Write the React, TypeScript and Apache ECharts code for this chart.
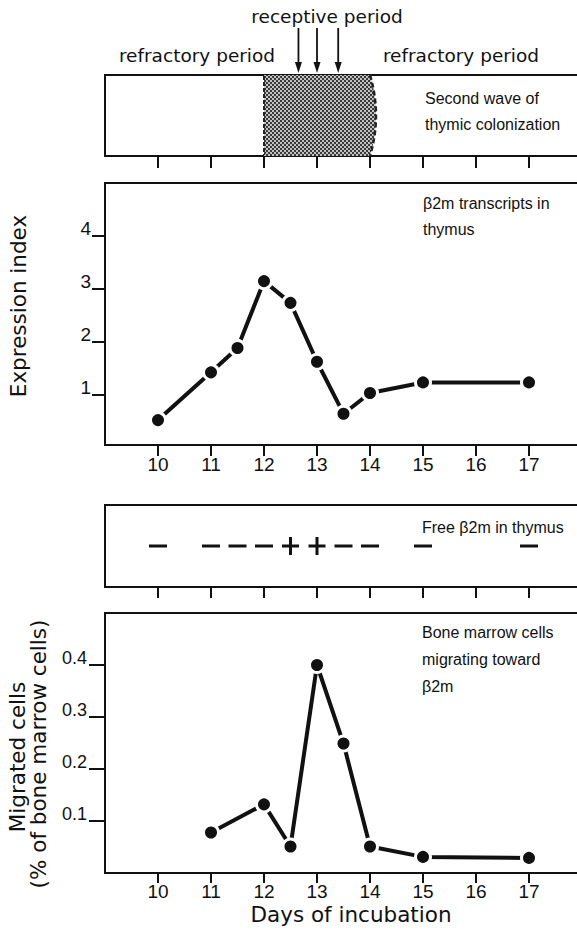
import React, { useEffect, useRef } from "react";
import * as echarts from "echarts";

// ---- data ----
const dayTicks = [10, 11, 12, 13, 14, 15, 16, 17];
const receptiveStart = 12;
const receptiveEnd = 14;
const arrowDays = [12.65, 13.0, 13.4];

const exprDays = [10, 11, 11.5, 12, 12.5, 13, 13.5, 14, 15, 17];
const exprValues = [0.53, 1.43, 1.89, 3.15, 2.74, 1.63, 0.65, 1.04, 1.24, 1.24];
const exprTicks = [1, 2, 3, 4];

const freeDays = [10, 11, 11.5, 12, 12.5, 13, 13.5, 14, 15, 17];
const freeSigns = ["-", "-", "-", "-", "+", "+", "-", "-", "-", "-"];
const freeRow = 0.5;

const migDays = [11, 12, 12.5, 13, 13.5, 14, 15, 17];
const migValues = [0.078, 0.132, 0.051, 0.4, 0.249, 0.051, 0.031, 0.029];
const migTicks = [0.1, 0.2, 0.3, 0.4];

// ---- styles ----
const INK = "#111";
const titleFont = '21.5px "DejaVu Sans"';
const topFont = '18.5px "DejaVu Sans"';
const annFont = '16px "Liberation Sans"';
const PLUS = "path://M0,7.5H17V10.5H0Z M7,0H10V18H7Z";

function makeChecker() {
  const c = document.createElement("canvas");
  c.width = 4;
  c.height = 4;
  const g = c.getContext("2d")!;
  g.fillStyle = "#c2c2c2";
  g.fillRect(0, 0, 4, 4);
  g.fillStyle = "#3a3a3a";
  g.fillRect(0, 0, 2, 2);
  g.fillRect(2, 2, 2, 2);
  return c;
}

function txt(text: string, x: number, y: number, font: string, align = "left", rotation = 0) {
  return {
    type: "text",
    x,
    y,
    rotation,
    style: {
      text,
      font,
      fill: INK,
      textAlign: align,
      align,
      textVerticalAlign: "middle",
      verticalAlign: "middle",
    },
  };
}

const GRID_LEFT = 105;
const GRID_WIDTH = 477;

function xAxisFor(idx: number, tickLen: number, labels: boolean, margin = 10) {
  return {
    type: "value",
    gridIndex: idx,
    min: 9,
    max: 18,
    axisLine: { show: false },
    splitLine: { show: false },
    axisTick: {
      show: true,
      customValues: dayTicks,
      length: tickLen,
      lineStyle: { color: INK, width: 2 },
    },
    axisLabel: labels
      ? {
          show: true,
          customValues: dayTicks,
          margin,
          fontFamily: "Liberation Sans",
          fontSize: 19,
          color: INK,
        }
      : { show: false },
  };
}

export default function App() {
  const ref = useRef<HTMLDivElement>(null);

  useEffect(() => {
    if (!ref.current) return;
    const chart = echarts.init(ref.current, undefined, { renderer: "svg" });
    const pattern = {
      image: makeChecker(),
      repeat: "repeat",
      imageWidth: 4,
      imageHeight: 4,
    };

    const gridBase = {
      left: GRID_LEFT,
      width: GRID_WIDTH,
      show: true,
      borderColor: INK,
      borderWidth: 2,
      backgroundColor: "transparent",
      containLabel: false,
    };

    const option: any = {
      animation: false,
      backgroundColor: "#fff",
      grid: [
        { ...gridBase, top: 75, height: 81 },
        { ...gridBase, top: 183, height: 262 },
        { ...gridBase, top: 505, height: 82 },
        { ...gridBase, top: 613, height: 260 },
      ],
      xAxis: [
        xAxisFor(0, 12, false),
        xAxisFor(1, 11, true, 10),
        xAxisFor(2, 11, false),
        xAxisFor(3, 10, true, 9),
      ],
      yAxis: [
        { type: "value", gridIndex: 0, min: 0, max: 1, show: false },
        {
          type: "value",
          gridIndex: 1,
          min: 0.06,
          max: 5,
          axisLine: { show: false },
          splitLine: { show: false },
          axisTick: {
            show: true,
            customValues: exprTicks,
            length: 13,
            lineStyle: { color: INK, width: 2 },
          },
          axisLabel: {
            customValues: exprTicks,
            margin: 14,
            verticalAlign: "bottom",
            lineHeight: 15,
            fontFamily: "Liberation Sans",
            fontSize: 19,
            color: INK,
          },
        },
        { type: "value", gridIndex: 2, min: 0, max: 1, show: false },
        {
          type: "value",
          gridIndex: 3,
          min: 0,
          max: 0.5,
          axisLine: { show: false },
          splitLine: { show: false },
          axisTick: {
            show: true,
            customValues: migTicks,
            length: 16,
            lineStyle: { color: INK, width: 2 },
          },
          axisLabel: {
            customValues: migTicks,
            margin: 18,
            verticalAlign: "bottom",
            lineHeight: 14,
            fontFamily: "Liberation Sans",
            fontSize: 18,
            color: INK,
            formatter: (v: number) => v.toFixed(1),
          },
        },
      ],
      series: [
        {
          type: "custom",
          xAxisIndex: 0,
          yAxisIndex: 0,
          clip: false,
          silent: true,
          data: [[receptiveStart, receptiveEnd]],
          renderItem: (_p: any, api: any) => {
            const tl = api.coord([api.value(0), 1]);
            const br = api.coord([api.value(1), 0]);
            const x0 = tl[0],
              y0 = tl[1],
              x1 = br[0],
              y1 = br[1];
            const bulge = 6;
            const curve: number[][] = [];
            for (let i = 0; i <= 24; i++) {
              const t = i / 24;
              curve.push([x1 + bulge * 4 * t * (1 - t), y0 + (y1 - y0) * t]);
            }
            return {
              type: "group",
              children: [
                {
                  type: "polygon",
                  shape: { points: [[x0, y0], ...curve, [x0, y1]] },
                  style: { fill: pattern },
                },
                {
                  type: "line",
                  shape: { x1: x0, y1: y0 + 1, x2: x0, y2: y1 - 1 },
                  style: { stroke: "#222", lineWidth: 2, lineDash: [4, 2] },
                },
                {
                  type: "polyline",
                  shape: { points: curve },
                  style: { stroke: "#222", lineWidth: 2.5, lineDash: [5, 3], fill: null },
                },
              ],
            };
          },
        },
        {
          type: "custom",
          xAxisIndex: 0,
          yAxisIndex: 0,
          clip: false,
          silent: true,
          data: arrowDays.map((d) => [d, 1]),
          renderItem: (_p: any, api: any) => {
            const pt = api.coord([api.value(0), api.value(1)]);
            const x = pt[0],
              y = pt[1];
            return {
              type: "group",
              children: [
                {
                  type: "line",
                  shape: { x1: x, y1: y - 47, x2: x, y2: y - 10 },
                  style: { stroke: INK, lineWidth: 1.8 },
                },
                {
                  type: "polygon",
                  shape: { points: [[x - 3.5, y - 13], [x + 3.5, y - 13], [x, y - 2]] },
                  style: { fill: INK },
                },
              ],
            };
          },
        },
        {
          type: "line",
          xAxisIndex: 1,
          yAxisIndex: 1,
          data: exprDays.map((d, i) => [d, exprValues[i]]),
          symbol: "circle",
          symbolSize: 15,
          itemStyle: { color: INK, borderColor: "#fff", borderWidth: 3 },
          lineStyle: { color: INK, width: 4 },
        },
        {
          type: "scatter",
          xAxisIndex: 2,
          yAxisIndex: 2,
          data: freeDays.map((d, i) => ({
            value: [d, freeRow],
            symbol: freeSigns[i] === "+" ? PLUS : "rect",
            symbolSize: freeSigns[i] === "+" ? [17, 18] : [18, 3],
          })),
          itemStyle: { color: INK, opacity: 1 },
        },
        {
          type: "line",
          xAxisIndex: 3,
          yAxisIndex: 3,
          data: migDays.map((d, i) => [d, migValues[i]]),
          symbol: "circle",
          symbolSize: 15,
          itemStyle: { color: INK, borderColor: "#fff", borderWidth: 3 },
          lineStyle: { color: INK, width: 4 },
        },
      ],
      graphic: [
        txt("receptive period", 327, 16, topFont, "center"),
        txt("refractory period", 197, 55, topFont, "center"),
        txt("refractory period", 461, 55, topFont, "center"),
        txt("Second wave of", 425, 98, annFont),
        txt("thymic colonization", 425, 124, annFont),
        txt("β2m transcripts in", 423, 203, annFont),
        txt("thymus", 423, 229, annFont),
        txt("Free β2m in thymus", 422, 527, annFont),
        txt("Bone marrow cells", 422, 632, annFont),
        txt("migrating toward", 422, 659, annFont),
        txt("β2m", 422, 686, annFont),
        txt("Expression index", 18, 306, titleFont, "center", Math.PI / 2),
        txt("Migrated cells", 17, 757, titleFont, "center", Math.PI / 2),
        txt("(% of bone marrow cells)", 38, 754, titleFont, "center", Math.PI / 2),
        txt("Days of incubation", 351, 914, titleFont, "center"),
      ],
    };

    chart.setOption(option);
    return () => chart.dispose();
  }, []);

  return (
    <div
      style={{
        position: "absolute",
        left: 0,
        top: 0,
        width: 577,
        height: 930,
        overflow: "hidden",
        background: "#fff",
      }}
    >
      <div ref={ref} style={{ width: 586, height: 930 }} />
    </div>
  );
}
